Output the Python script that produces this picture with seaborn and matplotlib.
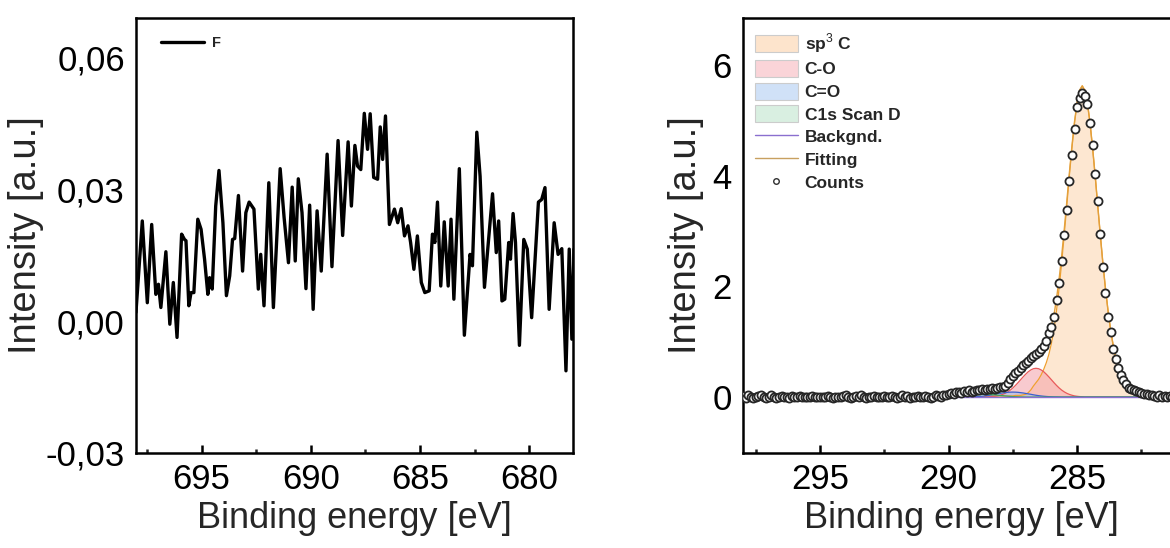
import numpy as np
import matplotlib
matplotlib.use("Agg")
import matplotlib.pyplot as plt
from matplotlib.lines import Line2D
from matplotlib.patches import Patch
from matplotlib.ticker import MultipleLocator
import seaborn as sns

# ---- F 1s scan (left panel) ----
f_ev = [698.0, 697.71, 697.48, 697.28, 697.09, 696.97, 696.86, 696.63, 696.45, 696.29,
        696.12, 695.91, 695.78, 695.71, 695.58, 695.48, 695.35, 695.17, 695.02, 694.86,
        694.71, 694.63, 694.51, 694.35, 694.20, 694.02, 693.86, 693.71, 693.58, 693.48,
        693.31, 693.12, 692.97, 692.82, 692.60, 692.40, 692.29, 692.14, 691.92, 691.71,
        691.40, 691.22, 691.02, 690.85, 690.71, 690.57, 690.40, 690.22, 690.05, 689.89,
        689.71, 689.52, 689.25, 689.03, 688.75, 688.54, 688.29, 688.14, 687.98, 687.86,
        687.71, 687.55, 687.40, 687.28, 687.12, 686.94, 686.82, 686.71, 686.58, 686.40,
        686.17, 686.02, 685.86, 685.71, 685.55, 685.43, 685.28, 685.12, 684.94, 684.78,
        684.58, 684.43, 684.32, 684.20, 684.05, 683.89, 683.71, 683.58, 683.45, 683.20,
        682.97, 682.71, 682.60, 682.40, 682.25, 682.05, 681.68, 681.51, 681.40, 681.25,
        681.12, 680.94, 680.86, 680.74, 680.63, 680.45, 680.25, 680.09, 679.89, 679.58,
        679.43, 679.28, 679.09, 678.86, 678.68, 678.51, 678.32, 678.17, 678.05, 677.95]
f_int = [0.0020, 0.0228, 0.0042, 0.0220, 0.0061, 0.0084, 0.0031, 0.0158, -0.0007, 0.0088,
         -0.0037, 0.0198, 0.0186, 0.0183, 0.0035, 0.0065, 0.0065, 0.0232, 0.0209, 0.0141,
         0.0061, 0.0099, 0.0073, 0.0262, 0.0343, 0.0224, 0.0058, 0.0103, 0.0186, 0.0188,
         0.0286, 0.0114, 0.0247, 0.0271, 0.0255, 0.0073, 0.0152, 0.0035, 0.0315, 0.0031,
         0.0347, 0.0236, 0.0133, 0.0305, 0.0137, 0.0324, 0.0247, 0.0074, 0.0264, 0.0027,
         0.0251, 0.0114, 0.0380, 0.0124, 0.0411, 0.0195, 0.0408, 0.0262, 0.0400, 0.0353,
         0.0345, 0.0473, 0.0391, 0.0472, 0.0327, 0.0323, 0.0442, 0.0368, 0.0467, 0.0220,
         0.0255, 0.0224, 0.0256, 0.0194, 0.0217, 0.0179, 0.0118, 0.0194, 0.0088, 0.0065,
         0.0069, 0.0198, 0.0179, 0.0271, 0.0080, 0.0226, 0.0080, 0.0232, 0.0050, 0.0347,
         -0.0032, 0.0152, 0.0126, 0.0430, 0.0330, 0.0077, 0.0290, 0.0156, 0.0228, 0.0046,
         0.0050, 0.0179, 0.0141, 0.0245, 0.0179, -0.0055, 0.0186, 0.0164, 0.0008, 0.0271,
         0.0277, 0.0304, 0.0027, 0.0224, 0.0152, 0.0165, -0.0113, 0.0164, -0.0041, 0.0164]

# ---- C 1s scan (right panel): measured counts ----
c_ev = [298.0, 297.9, 297.8, 297.7, 297.6, 297.5, 297.4, 297.3, 297.2, 297.1,
        297.0, 296.9, 296.8, 296.7, 296.6, 296.5, 296.4, 296.3, 296.2, 296.1,
        296.0, 295.9, 295.8, 295.7, 295.6, 295.5, 295.4, 295.3, 295.2, 295.1,
        295.0, 294.9, 294.8, 294.7, 294.6, 294.5, 294.4, 294.3, 294.2, 294.1,
        294.0, 293.9, 293.8, 293.7, 293.6, 293.5, 293.4, 293.3, 293.2, 293.1,
        293.0, 292.9, 292.8, 292.7, 292.6, 292.5, 292.4, 292.3, 292.2, 292.1,
        292.0, 291.9, 291.8, 291.7, 291.6, 291.5, 291.4, 291.3, 291.2, 291.1,
        291.0, 290.9, 290.8, 290.7, 290.6, 290.5, 290.4, 290.3, 290.2, 290.1,
        290.0, 289.9, 289.8, 289.7, 289.6, 289.5, 289.4, 289.3, 289.2, 289.1,
        289.0, 288.9, 288.8, 288.7, 288.6, 288.5, 288.4, 288.3, 288.2, 288.1,
        288.0, 287.9, 287.8, 287.7, 287.6, 287.5, 287.4, 287.3, 287.2, 287.1,
        287.0, 286.9, 286.8, 286.7, 286.6, 286.5, 286.4, 286.3, 286.2, 286.1,
        286.0, 285.9, 285.8, 285.7, 285.6, 285.5, 285.4, 285.3, 285.2, 285.1,
        285.0, 284.9, 284.8, 284.7, 284.6, 284.5, 284.4, 284.3, 284.2, 284.1,
        284.0, 283.9, 283.8, 283.7, 283.6, 283.5, 283.4, 283.3, 283.2, 283.1,
        283.0, 282.9, 282.8, 282.7, 282.6, 282.5, 282.4, 282.3, 282.2, 282.1,
        282.0, 281.9, 281.8, 281.7, 281.6, 281.5, 281.4, 281.3, 281.2, 281.1]
c_counts = [0.02, -0.01, 0.03, 0.01, -0.02, 0.00, 0.02, 0.04, 0.01, -0.01,
            0.01, 0.03, 0.00, -0.02, 0.01, 0.02, 0.00, 0.01, -0.01, 0.02,
            0.00, 0.01, 0.02, 0.01, 0.00, 0.01, 0.00, 0.02, 0.01, 0.00,
            0.01, 0.00, 0.01, 0.02, 0.00, -0.01, 0.01, 0.00, 0.01, 0.02,
            0.03, 0.01, -0.01, 0.00, 0.02, 0.01, 0.03, 0.00, -0.01, 0.01,
            0.00, 0.02, 0.01, 0.00, 0.01, 0.02, 0.00, 0.01, 0.02, 0.01,
            -0.01, 0.01, 0.03, 0.00, 0.02, -0.01, 0.01, 0.00, 0.02, 0.01,
            0.00, 0.02, 0.01, -0.01, 0.01, 0.03, 0.02, 0.01, 0.04, 0.03,
            0.05, 0.07, 0.06, 0.09, 0.10, 0.08, 0.11, 0.10, 0.12, 0.10,
            0.11, 0.13, 0.12, 0.14, 0.13, 0.15, 0.14, 0.16, 0.15, 0.17,
            0.18, 0.18, 0.20, 0.26, 0.33, 0.38, 0.43, 0.48, 0.53, 0.58,
            0.62, 0.66, 0.71, 0.74, 0.77, 0.81, 0.86, 0.93, 1.02, 1.15,
            1.27, 1.45, 1.75, 2.06, 2.45, 2.92, 3.38, 3.90, 4.37, 4.85,
            5.25, 5.40, 5.50, 5.44, 5.30, 4.95, 4.55, 4.03, 3.55, 2.95,
            2.35, 1.88, 1.45, 1.17, 0.87, 0.69, 0.53, 0.39, 0.30, 0.24,
            0.17, 0.14, 0.12, 0.11, 0.09, 0.07, 0.06, 0.05, 0.03, 0.04,
            0.02, 0.01, 0.03, 0.00, 0.02, 0.01, 0.02, 0.00, 0.01, 0.02]

# ---- C 1s fitted components ----
fit_ev = [290.0, 289.9, 289.8, 289.7, 289.6, 289.5, 289.4, 289.3, 289.2, 289.1,
          289.0, 288.9, 288.8, 288.7, 288.6, 288.5, 288.4, 288.3, 288.2, 288.1,
          288.0, 287.9, 287.8, 287.7, 287.6, 287.5, 287.4, 287.3, 287.2, 287.1,
          287.0, 286.9, 286.8, 286.7, 286.6, 286.5, 286.4, 286.3, 286.2, 286.1,
          286.0, 285.9, 285.8, 285.7, 285.6, 285.5, 285.4, 285.3, 285.2, 285.1,
          285.0, 284.9, 284.8, 284.7, 284.6, 284.5, 284.4, 284.3, 284.2, 284.1,
          284.0, 283.9, 283.8, 283.7, 283.6, 283.5, 283.4, 283.3, 283.2, 283.1,
          283.0, 282.9, 282.8, 282.7, 282.6, 282.5, 282.4, 282.3, 282.2, 282.1,
          282.0]
sp3_c = [0.0, 0.0, 0.0, 0.0, 0.0, 0.0, 0.01, 0.01, 0.01, 0.01,
         0.01, 0.01, 0.01, 0.01, 0.01, 0.01, 0.01, 0.02, 0.02, 0.02,
         0.02, 0.02, 0.02, 0.02, 0.02, 0.02, 0.03, 0.03, 0.03, 0.04,
         0.05, 0.08, 0.13, 0.20, 0.26, 0.32, 0.40, 0.50, 0.62, 0.77,
         0.97, 1.22, 1.57, 1.97, 2.43, 2.94, 3.47, 4.01, 4.51, 4.96,
         5.31, 5.54, 5.62, 5.54, 5.31, 4.96, 4.51, 4.01, 3.47, 2.94,
         2.43, 1.97, 1.57, 1.22, 0.94, 0.71, 0.54, 0.41, 0.31, 0.24,
         0.18, 0.15, 0.12, 0.10, 0.09, 0.08, 0.07, 0.07, 0.06, 0.06,
         0.05]
c_o = [0.0, 0.0, 0.0, 0.0, 0.0, 0.0, 0.0, 0.0, 0.0, 0.0,
       0.0, 0.0, 0.0, 0.0, 0.0, 0.0, 0.005, 0.009, 0.014, 0.021,
       0.033, 0.048, 0.068, 0.094, 0.126, 0.165, 0.21, 0.26, 0.313, 0.365,
       0.414, 0.458, 0.491, 0.513, 0.52, 0.513, 0.491, 0.458, 0.414, 0.365,
       0.313, 0.26, 0.21, 0.165, 0.126, 0.094, 0.068, 0.048, 0.033, 0.021,
       0.014, 0.009, 0.005, 0.0, 0.0, 0.0, 0.0, 0.0, 0.0, 0.0,
       0.0, 0.0, 0.0, 0.0, 0.0, 0.0, 0.0, 0.0, 0.0, 0.0,
       0.0, 0.0, 0.0, 0.0, 0.0, 0.0, 0.0, 0.0, 0.0, 0.0,
       0.0]
c_dbl_o = [0.0, 0.0, 0.0, 0.0, 0.0, 0.0, 0.0, 0.002, 0.003, 0.004,
           0.006, 0.008, 0.011, 0.015, 0.020, 0.026, 0.033, 0.041, 0.05, 0.058,
           0.066, 0.074, 0.080, 0.086, 0.089, 0.09, 0.089, 0.086, 0.080, 0.074,
           0.066, 0.058, 0.05, 0.041, 0.033, 0.026, 0.020, 0.015, 0.011, 0.008,
           0.006, 0.004, 0.003, 0.002, 0.0, 0.0, 0.0, 0.0, 0.0, 0.0,
           0.0, 0.0, 0.0, 0.0, 0.0, 0.0, 0.0, 0.0, 0.0, 0.0,
           0.0, 0.0, 0.0, 0.0, 0.0, 0.0, 0.0, 0.0, 0.0, 0.0,
           0.0, 0.0, 0.0, 0.0, 0.0, 0.0, 0.0, 0.0, 0.0, 0.0,
           0.0]
scan_d = [0.003, 0.005, 0.0065, 0.009, 0.012, 0.016, 0.020, 0.025, 0.030, 0.035,
          0.040, 0.044, 0.047, 0.049, 0.05, 0.049, 0.047, 0.044, 0.040, 0.035,
          0.030, 0.025, 0.020, 0.016, 0.012, 0.009, 0.0065, 0.005, 0.003, 0.002,
          0.0, 0.0, 0.0, 0.0, 0.0, 0.0, 0.0, 0.0, 0.0, 0.0,
          0.0, 0.0, 0.0, 0.0, 0.0, 0.0, 0.0, 0.0, 0.0, 0.0,
          0.0, 0.0, 0.0, 0.0, 0.0, 0.0, 0.0, 0.0, 0.0, 0.0,
          0.0, 0.0, 0.0, 0.0, 0.0, 0.0, 0.0, 0.0, 0.0, 0.0,
          0.0, 0.0, 0.0, 0.0, 0.0, 0.0, 0.0, 0.0, 0.0, 0.0,
          0.0]
backgnd = [0.0] * len(fit_ev)  # flat background at zero
fitting = np.array(sp3_c) + np.array(c_o) + np.array(c_dbl_o) + np.array(scan_d) + np.array(backgnd)

sns.set_style("ticks")
plt.rcParams['font.family'] = ['Liberation Sans', 'DejaVu Sans']
plt.rcParams['mathtext.fontset'] = 'custom'
plt.rcParams['mathtext.rm'] = 'Liberation Sans'
plt.rcParams['mathtext.bf'] = 'Liberation Sans:bold'

fig = plt.figure(figsize=(11.7, 5.48), dpi=100)
ax1 = fig.add_axes([0.1162, 0.1734, 0.3735, 0.7938])
ax2 = fig.add_axes([0.6350, 0.1734, 0.3735, 0.7938])

TICK_FS = 25
XLAB_FS = 26
YLAB_FS = 27.5

# left: F 1s
sns.lineplot(x=f_ev, y=f_int, ax=ax1, color='black', lw=2.4, sort=False, legend=False)
ax1.set_xlim(698, 678)
ax1.set_ylim(-0.03, 0.069)
ax1.set_xticks([695, 690, 685, 680])
ax1.xaxis.set_minor_locator(MultipleLocator(2.5))
ax1.set_yticks([-0.03, 0.0, 0.03, 0.06])
ax1.set_yticklabels(['-0,03', '0,00', '0,03', '0,06'])
ax1.set_xlabel('Binding energy [eV]', fontsize=XLAB_FS, labelpad=4)
ax1.set_ylabel('Intensity [a.u.]', fontsize=YLAB_FS, labelpad=1)
ax1.legend(handles=[Line2D([], [], color='black', lw=2.4)], labels=['F'],
           loc='upper left', bbox_to_anchor=(0.04, 0.975), frameon=False,
           borderpad=0, handlelength=3.0, handletextpad=0.5,
           prop={'size': 10.5, 'weight': 'bold'})

# right: C 1s with fit
fills = [
    (sp3_c, '#fcd5ac', '#f0a030'),
    (c_o, '#f4a0a8', '#e85a5a'),
    (c_dbl_o, '#9ebfee', '#3a5fcd'),
    (scan_d, '#a8dcbc', '#3aa05a'),
]
for vals, face, edge in fills:
    ax2.fill_between(fit_ev, backgnd, vals, color=face, alpha=0.55, lw=0, zorder=2)
    sns.lineplot(x=fit_ev, y=vals, ax=ax2, color=edge, lw=0.9, sort=False,
                 legend=False, zorder=3)
sns.lineplot(x=fit_ev, y=backgnd, ax=ax2, color='#8a6fcf', lw=1.0, sort=False,
             legend=False, zorder=3)
sns.lineplot(x=fit_ev, y=fitting, ax=ax2, color='#e3a03c', lw=1.0, sort=False,
             legend=False, zorder=3)
sns.scatterplot(x=c_ev, y=c_counts, ax=ax2, marker='o', s=34, facecolor='white',
                edgecolor='#262626', linewidth=1.3, zorder=5, legend=False)

ax2.set_xlim(298, 281)
ax2.set_ylim(-1.01, 6.85)
ax2.set_xticks([295, 290, 285])
ax2.xaxis.set_minor_locator(MultipleLocator(2.5))
ax2.set_yticks([0, 2, 4, 6])
ax2.set_xlabel('Binding energy [eV]', fontsize=XLAB_FS, labelpad=4)
ax2.set_ylabel('Intensity [a.u.]', fontsize=YLAB_FS, labelpad=6)

handles = [
    Patch(facecolor='#fde4cc', edgecolor='#cccccc', lw=0.8),
    Patch(facecolor='#fad4d8', edgecolor='#cccccc', lw=0.8),
    Patch(facecolor='#d0e1f7', edgecolor='#cccccc', lw=0.8),
    Patch(facecolor='#d9efe1', edgecolor='#cccccc', lw=0.8),
    Line2D([], [], color='#8a6fcf', lw=1.0),
    Line2D([], [], color='#c8a060', lw=1.0),
    Line2D([], [], ls='none', marker='o', markersize=4, markerfacecolor='white',
           markeredgecolor='#303030', markeredgewidth=1.0),
]
labels = ['sp$^3$ C', 'C-O', 'C=O', 'C1s Scan D', 'Backgnd.', 'Fitting', 'Counts']
ax2.legend(handles=handles, labels=labels, loc='upper left',
           bbox_to_anchor=(0.008, 0.99), frameon=False, borderpad=0,
           handlelength=2.45, handleheight=1.15, handletextpad=0.4,
           labelspacing=0.3, prop={'size': 12.5, 'weight': 'bold'})

for ax in (ax1, ax2):
    for s in ax.spines.values():
        s.set_linewidth(1.8)
        s.set_color('black')
    ax.tick_params(axis='x', which='major', direction='in', length=6, width=1.8,
                   labelsize=TICK_FS, pad=7, top=False)
    ax.tick_params(axis='x', which='minor', direction='in', length=3, width=1.8,
                   top=False)
    ax.tick_params(axis='y', which='both', length=0, labelsize=TICK_FS, pad=8)
    ax.tick_params(axis='both', colors='black', labelcolor='black')

fig.savefig('out.png', dpi=100)
